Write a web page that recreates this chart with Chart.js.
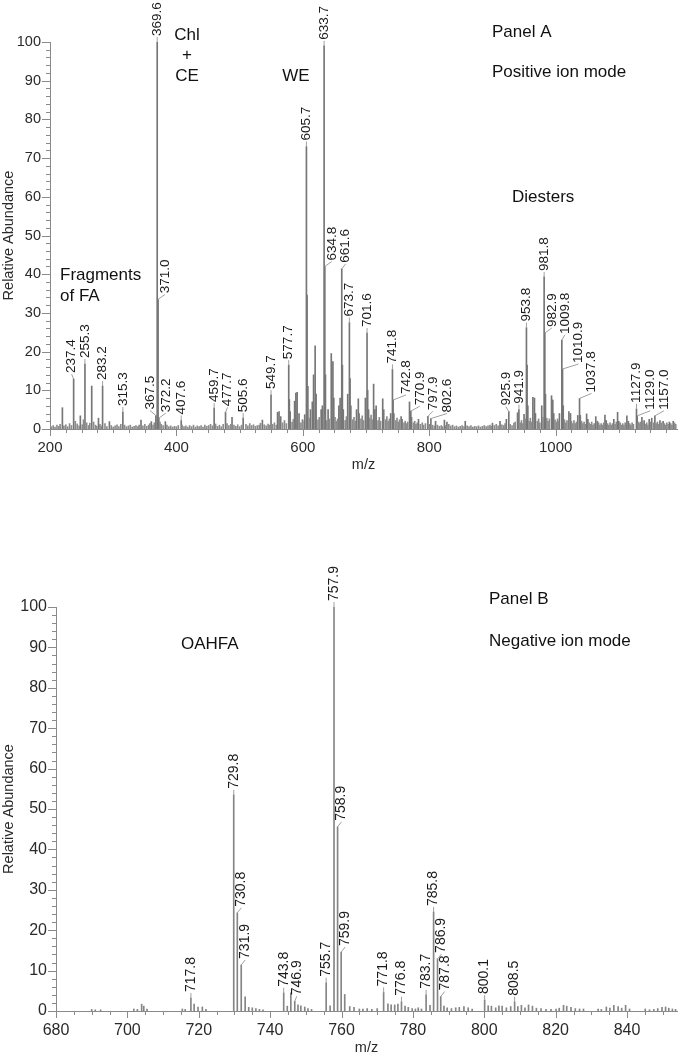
<!DOCTYPE html>
<html>
<head>
<meta charset="utf-8">
<script src="https://cdn.jsdelivr.net/npm/chart.js@4.4.1/dist/chart.umd.min.js"></script>
<style>
  html, body { margin: 0; padding: 0; background: #fff; overflow: hidden; }
  .panel { position: absolute; left: 0; width: 692px; }
  #wrapA { top: 0; height: 500px; }
  #wrapB { top: 500px; height: 560px; }
</style>
</head>
<body>
<div class="panel" id="wrapA"><canvas id="chartA" width="692" height="500"></canvas></div>
<div class="panel" id="wrapB"><canvas id="chartB" width="692" height="560"></canvas></div>
<script>
const FONT = '"Liberation Sans", Arial, sans-serif';

// tick labels
const yTicks = [0, 10, 20, 30, 40, 50, 60, 70, 80, 90, 100];
const xTicksA = [200, 400, 600, 800, 1000];
const xTicksB = [680, 700, 720, 740, 760, 780, 800, 820, 840];

// ---------- Panel A (positive ion mode) ----------
// labelled peaks: m/z and relative abundance
const labMzA = [237.4, 255.3, 283.2, 315.3, 367.5, 369.6, 371.0, 372.2, 407.6, 459.7, 477.7, 505.6,
  549.7, 577.7, 605.7, 633.7, 634.8, 661.6, 673.7, 701.6, 741.8, 742.8, 770.9, 797.9, 802.6,
  925.9, 941.9, 953.8, 981.8, 982.9, 1009.8, 1010.9, 1037.8, 1127.9, 1129.0, 1157.0];
const labAbA = [12.9, 16.8, 11.1, 4.4, 3.5, 100, 33.5, 2.8, 2.2, 5.4, 4.3, 2.8,
  8.8, 16.5, 73, 99, 42, 41.4, 27.5, 24.8, 15.4, 7.5, 4.6, 3.3, 2.7,
  4.5, 5.0, 26.2, 39.3, 24.8, 23, 15.5, 7.9, 5.2, 3.4, 3.4];

// other visible peaks [m/z, abundance]
const otherA = [[219.6,5.5],[248,3.4],[266,11.1],[276.7,2.8],[294,1.9],[344,2.3],[360.3,1.9],[382.5,1.9],
  [488,3],[536,2.3],[560,4.3],[562.4,4.5],[565,3.2],[578.7,7.6],[580,4.5],[587,7.2],[589,9.3],[591,9.5],[594,4],
  [599.5,2.4],[603,3.7],[606.7,34.6],[608,11],[612,5],[615,7],[617,14],[619.5,21.5],[621,9],[629,5],[631,6],
  [635.8,14],[640,5],[645,19.5],[647.6,17.4],[649,8],[657,6],[659,8],[662.6,16.5],[664,5],[671,9],[674.7,13],
  [676,6],[685,5],[687.8,7.8],[689,4],[699,8],[702.6,10],[704,5],[712,11.6],[714,5],[716,6],[726.4,7.8],[728,5],
  [739,4],[744,4],[755.5,3.2],[757,2.5],[768.8,7],[772,3],[783,2.5],[810,2],[824,2.3],[828,1.8],[857,2],
  [900,1.5],[912,2],[922,2.5],[939.7,4.2],[950,3.8],[954.8,16.5],[956,6],[964,8.2],[966.5,8],[968,4],[978,6],
  [983.9,9],[993.5,8.6],[995.5,7.5],[997,4],[1006,4],[1012,6],[1021,4.5],[1023.5,4],[1035,3.5],[1039,3.5],
  [1049,3.9],[1051,2.5],[1063.5,3.2],[1066,2],[1078,3.6],[1080,2.2],[1092,2.5],[1098,4.3],[1100,2],[1112.7,3.4],
  [1115,2],[1136.5,3],[1140,2.2],[1148,2.5],[1152,2.8],[1165,2.2],[1170,2],[1180,1.8],[1186,2]];

// baseline noise [m/z, abundance]
const noiseA = [[202,0.6],[205,0.9],[208,0.5],[211,1.0],[214,0.7],[216,1.2],[222,0.8],[225,1.1],[228,0.6],[231,1.4],
  [234,0.9],[240,2.0],[243,1.3],[246,0.8],[251,1.1],[253,2.4],[258,1.6],[261,0.9],[263,1.5],[269,1.8],[272,1.0],
  [274,0.7],[279,1.2],[281,0.8],[287,1.4],[290,0.6],[297,0.9],[300,0.5],[303,0.8],[306,1.1],[309,0.6],[312,1.2],
  [318,1.0],[321,0.6],[324,0.8],[327,1.0],[330,0.5],[333,0.7],[336,0.9],[339,0.6],[341,1.0],[347,0.8],[350,1.2],
  [353,0.7],[356,1.0],[358,1.4],[363,1.0],[365,1.6],[374,1.8],[376,1.2],[379,0.9],[385,1.0],[388,0.6],[391,0.8],
  [394,0.5],[397,0.7],[400,0.6],[403,0.9],[409,1.0],[412,0.6],[415,0.8],[418,0.5],[421,0.9],[424,0.6],[427,1.0],
  [430,0.5],[433,0.8],[436,0.6],[439,0.9],[442,0.5],[445,1.0],[448,0.7],[451,0.9],[454,1.2],[457,0.8],[462,1.3],
  [465,0.7],[468,1.0],[471,0.6],[474,1.2],[480,1.4],[483,0.9],[486,1.2],[491,1.0],[494,0.7],[497,1.1],[500,0.6],
  [503,1.0],[510,1.2],[513,0.8],[516,1.4],[519,0.9],[522,1.1],[525,0.7],[528,0.9],[531,1.0],[533,1.5],[539,1.1],
  [542,0.8],[545,1.3],[547,1.0],[552,1.2],[555,1.6],[558,1.0],
  [568,1.6],[571,2.2],[574,1.4],[583,1.8],[585,2.5],[597,1.6],[600,2.0],[610,2.8],[624,2.4],[626,3.0],[633,3.5],
  [638,2.2],[642,2.6],[651,3.0],[653,2.0],[655,2.6],[667,2.2],[669,3.2],[679,2.4],[681,3.0],[683,2.0],[692,2.6],
  [694,3.4],[696,2.2],[706,2.8],[708,3.6],[710,2.4],[719,2.2],[721,3.0],[723,2.0],[731,2.4],[733,3.2],[735,2.0],
  [737,2.6],[747,2.2],[749,2.8],[751,1.8],[753,2.4],[760,1.6],[762,2.0],[764,1.4],[766,1.8],[775,1.6],[777,2.0],
  [779,1.2],[781,1.6],[786,1.2],[789,1.6],[791,1.0],[794,1.4],[800,1.2],
  [805,1.0],[808,0.8],[813,1.0],[816,0.7],[819,0.9],[821,0.6],[826,0.9],[831,1.2],[834,0.8],[837,1.0],[840,0.6],
  [843,0.8],[846,0.5],[849,0.7],[852,0.9],[855,0.6],[860,0.8],[863,0.6],[866,0.9],[869,0.5],[872,0.7],[875,0.6],
  [878,0.8],[881,0.5],[884,0.7],[887,0.9],[890,0.6],[893,0.8],[896,1.0],[898,0.7],
  [903,0.9],[906,1.2],[909,0.8],[915,1.1],[918,0.9],[920,1.4],[928,1.2],[931,0.9],[934,1.5],[936,1.8],[944,1.6],
  [946,2.2],[948,1.4],[952,2.6],[958,2.0],[960,2.8],[962,1.8],[971,2.0],[973,2.6],[975,1.6],[980,3.0],[986,2.8],
  [988,2.0],[990,2.6],[999,2.4],[1001,1.8],[1003,2.6],[1004.5,2.0],[1014,2.4],[1016,1.6],[1018,2.2],[1025,2.0],
  [1027,1.4],[1029,2.2],[1031,1.4],[1033,1.8],[1041,2.0],[1043,1.4],[1045,1.8],[1047,1.2],[1053,1.6],[1055,1.2],
  [1057,1.8],[1059,1.0],[1061,1.4],[1068,1.6],[1070,1.0],[1072,1.4],[1074,1.0],[1076,1.6],[1082,1.4],[1084,1.0],
  [1086,1.6],[1088,1.0],[1090,1.4],[1094,1.2],[1096,1.8],[1102,1.6],[1104,1.0],[1106,1.4],[1108,1.0],[1110,1.6],
  [1117,1.4],[1119,1.0],[1121,1.6],[1123,1.2],[1130.5,1.8],[1132,1.4],[1134,1.8],[1138,1.6],[1142,1.2],[1144,1.6],
  [1146,1.0],[1150,1.8],[1155,1.6],[1159,1.4],[1161,1.8],[1163,1.2],[1167,1.6],[1172,1.4],[1174,1.0],[1176,1.6],
  [1178,1.2],[1182,1.4],[1184,1.0],[1188,1.6],[1190,1.2]];

// ---------- Panel B (negative ion mode) ----------
const labMzB = [717.8, 729.8, 730.8, 731.9, 743.8, 746.9, 755.7, 757.9, 758.9, 759.9,
  771.8, 776.8, 783.7, 785.8, 786.9, 787.8, 800.1, 808.5];
const labAbB = [3.2, 53.5, 24.3, 11.4, 4.5, 2.4, 7, 100, 45.6, 14.6,
  4.6, 2.3, 4, 24.5, 12.9, 3.6, 2.7, 2.3];

const otherB = [[690,0.4],[691,0.3],[692.5,0.3],[701.8,0.5],[702.8,0.4],[704,1.7],[704.6,1.2],[705.5,0.5],
  [715.4,0.5],[716.2,0.4],[718.7,1.7],[719.8,1.0],[721,1.0],[722,0.4],[733,3.5],[734,0.9],[735,0.8],[736,0.6],
  [737,0.4],[738,0.3],[744.8,1.2],[745.8,4.5],[747.8,1.5],[748.6,1.3],[749.7,1.0],[750.6,0.6],[751.6,0.4],
  [756.8,1.3],[760.9,4.1],[762.3,1.1],[763.5,0.9],[765,0.5],[766,0.5],[767.2,0.6],[768.5,0.4],[770,0.6],
  [773,1.8],[773.9,1.5],[774.9,1.5],[775.8,1.7],[777.8,1.2],[778.7,0.9],[779.8,0.6],[780.7,0.5],[781.5,0.8],
  [782.4,0.5],[784.8,1.4],[788.7,1.2],[789.6,0.8],[790.8,0.6],[792,0.8],[793,0.9],[794.3,1.1],[795.5,0.8],
  [796.6,0.5],[801.1,1.3],[802,1.2],[803.2,0.8],[804.1,1.3],[805,1.2],[806.2,0.8],[807.4,1.1],[809.4,1.1],
  [810.4,1.4],[811.4,0.8],[812.4,1.5],[813.5,1.2],[814.6,0.7],[815.9,0.6],[817.3,0.4],[818.7,0.4],[820.1,0.5],
  [821,0.7],[822.2,1.4],[823.1,1.2],[824.3,0.9],[825.5,0.6],[826.7,0.5],[827.8,0.5],[831.9,0.5],[832.8,0.4],
  [834.2,1.0],[835.2,0.7],[836.3,1.4],[837.5,1.1],[838.5,0.7],[839.6,1.4],[840.7,0.5],[845.1,0.5],[846.3,0.3],
  [847.5,0.4],[848.6,0.6],[849.8,0.9],[850.8,1.0],[851.7,0.7],[852.7,0.5],[853.6,0.4]];

// ---------- plugins ----------
const peakLabels = {
  id: 'peakLabels',
  afterDatasetsDraw(chart, args, o) {
    const ctx = chart.ctx, xs = chart.scales.x, ys = chart.scales.y;
    ctx.save();
    ctx.font = o.font;
    const items = o.mz.map((m, i) => {
      const t = m.toFixed(1);
      return { px: xs.getPixelForValue(m), py: ys.getPixelForValue(o.ab[i]), text: t, w: ctx.measureText(t).width };
    });
    // tallest peaks get their label first, the rest slide sideways until free
    const order = items.map((_, i) => i).sort((a, b) => o.ab[b] - o.ab[a]);
    const placed = [];
    order.forEach(i => {
      const it = items[i];
      const by = it.py - o.gap;
      it.by = by; it.cx = it.px;
      for (let k = 0; k <= 90; k++) {
        const d = (k % 2 === 1 ? 1 : -1) * Math.ceil(k / 2);
        const c = it.px + d;
        const r = { l: c - o.half, r: c + o.half, t: by - it.w - 1, b: by };
        const hitLabel = placed.some(p => r.l < p.r && r.r > p.l && r.t < p.b && r.b > p.t);
        const hitBar = items.some(b => b.px > r.l - 0.5 && b.px < r.r + 0.5 && b.py < r.b);
        if (!hitLabel && !hitBar) { it.cx = c; placed.push(r); break; }
      }
    });
    items.forEach(it => {
      ctx.strokeStyle = '#a0a0a0';
      ctx.lineWidth = 1;
      ctx.beginPath();
      ctx.moveTo(it.px, it.py);
      ctx.lineTo(it.cx, it.by);
      ctx.stroke();
      ctx.save();
      ctx.translate(it.cx, it.by);
      ctx.rotate(-Math.PI / 2);
      ctx.fillStyle = '#1a1a1a';
      ctx.textAlign = 'left';
      ctx.textBaseline = 'middle';
      ctx.fillText(it.text, 1, 0);
      ctx.restore();
    });
    ctx.restore();
  }
};

const axisTicks = {
  id: 'axisTicks',
  afterDraw(chart, args, o) {
    const ctx = chart.ctx, xs = chart.scales.x, ys = chart.scales.y, a = chart.chartArea;
    ctx.save();
    ctx.strokeStyle = '#8a8a8a';
    ctx.lineWidth = 1;
    ctx.beginPath();
    for (let v = Math.ceil(xs.min / o.xMinor) * o.xMinor; v <= xs.max + 1e-6; v += o.xMinor) {
      const x = Math.round(xs.getPixelForValue(v)) + 0.5;
      const len = Math.abs(v % o.xMajor) < 1e-6 ? 7 : 4;
      ctx.moveTo(x, a.bottom);
      ctx.lineTo(x, a.bottom + len);
    }
    for (let v = ys.min; v <= ys.max + 1e-6; v += o.yMinor) {
      const y = Math.round(ys.getPixelForValue(v)) + 0.5;
      const len = Math.abs(v % o.yMajor) < 1e-6 ? 8 : 4;
      ctx.moveTo(a.left, y);
      ctx.lineTo(a.left - len, y);
    }
    ctx.stroke();
    ctx.restore();
  }
};

const notes = {
  id: 'notes',
  afterDraw(chart, args, o) {
    const ctx = chart.ctx;
    ctx.save();
    ctx.font = o.font;
    ctx.fillStyle = '#111';
    ctx.textBaseline = 'alphabetic';
    o.items.forEach(n => {
      ctx.textAlign = n.align || 'left';
      ctx.fillText(n.t, n.x, n.y);
    });
    ctx.restore();
  }
};

function pts(list) { return list.map(p => ({ x: p[0], y: p[1] })); }

function buildChart(id, c) {
  return new Chart(document.getElementById(id), {
    type: 'bar',
    data: {
      datasets: [
        { data: pts(c.noise), backgroundColor: c.noiseColor, barThickness: 1 },
        { data: pts(c.other), backgroundColor: c.color, barThickness: 1 },
        { data: c.labMz.map((m, i) => ({ x: m, y: c.labAb[i] })), backgroundColor: c.color, barThickness: 1 }
      ]
    },
    options: {
      responsive: false,
      animation: false,
      layout: { padding: { top: c.top, right: 15, left: 0, bottom: 0 } },
      datasets: { bar: { grouped: false } },
      plugins: {
        legend: { display: false },
        tooltip: { enabled: false },
        peakLabels: { mz: c.labMz, ab: c.labAb, font: c.labelFont, gap: 5, half: 6.5 },
        axisTicks: { xMinor: c.xMinor, xMajor: c.xMajor, yMinor: 2, yMajor: 10 },
        notes: { font: '17px ' + FONT, items: c.notes }
      },
      scales: {
        x: {
          type: 'linear', min: c.xMin, max: c.xMax, offset: false,
          grid: { display: false, drawTicks: false },
          border: { display: true, color: '#8a8a8a' },
          afterBuildTicks: s => { s.ticks = c.xTicks.map(v => ({ value: v })); },
          ticks: {
            padding: 10, color: '#2a2a2a', maxRotation: 0, autoSkip: false,
            font: { size: c.xFont, family: FONT },
            callback: v => String(v)
          },
          title: { display: true, text: 'm/z', color: '#2a2a2a', font: { size: 14.5, family: FONT },
                   padding: { top: 0, bottom: c.titlePad } },
          afterFit: s => { s.height = c.xHeight; }
        },
        y: {
          min: 0, max: 100,
          grid: { display: false, drawTicks: false },
          border: { display: true, color: '#8a8a8a' },
          afterBuildTicks: s => { s.ticks = yTicks.map(v => ({ value: v })); },
          ticks: { padding: 9, color: '#2a2a2a', autoSkip: false, font: { size: c.yFont, family: FONT },
                   callback: v => String(v) },
          title: { display: true, text: 'Relative Abundance', color: '#2a2a2a', font: { size: 14.5, family: FONT },
                   padding: { top: 0, bottom: 0 } },
          afterFit: s => { s.width = c.yWidth; }
        }
      }
    },
    plugins: [peakLabels, axisTicks, notes]
  });
}

buildChart('chartA', {
  noise: noiseA, other: otherA, labMz: labMzA, labAb: labAbA, xTicks: xTicksA,
  color: '#767676', noiseColor: '#8c8c8c', labelFont: '13.5px ' + FONT,
  top: 42, xMin: 200, xMax: 1192, xMinor: 25, xMajor: 200, xFont: 15, yFont: 14.5,
  xHeight: 71, yWidth: 50, titlePad: 26,
  notes: [
    { t: 'Chl', x: 187, y: 40, align: 'center' },
    { t: '+', x: 187, y: 60, align: 'center' },
    { t: 'CE', x: 187, y: 81, align: 'center' },
    { t: 'WE', x: 296, y: 81, align: 'center' },
    { t: 'Panel A', x: 492, y: 37 },
    { t: 'Positive ion mode', x: 492, y: 77 },
    { t: 'Diesters', x: 512, y: 202 },
    { t: 'Fragments', x: 60, y: 280 },
    { t: 'of FA', x: 60, y: 301 }
  ]
});

buildChart('chartB', {
  noise: [], other: otherB, labMz: labMzB, labAb: labAbB, xTicks: xTicksB,
  color: '#858585', noiseColor: '#999', labelFont: '14px ' + FONT,
  top: 107, xMin: 680, xMax: 854, xMinor: 5, xMajor: 20, xFont: 16, yFont: 16,
  xHeight: 49, yWidth: 56, titlePad: 3,
  notes: [
    { t: 'Panel B', x: 489, y: 104 },
    { t: 'Negative ion mode', x: 489, y: 146 },
    { t: 'OAHFA', x: 181, y: 149 }
  ]
});
</script>
</body>
</html>
